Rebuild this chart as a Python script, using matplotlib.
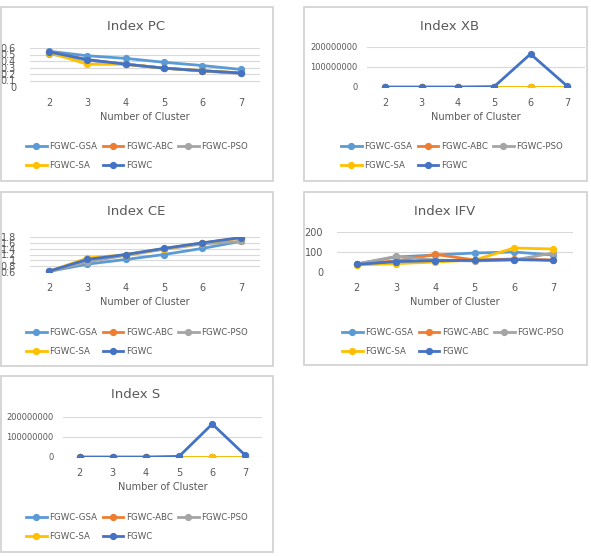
import matplotlib
matplotlib.use("Agg")
import matplotlib.pyplot as plt
from matplotlib.patches import Rectangle
from matplotlib.ticker import FuncFormatter

# ---- dados ----
clusters = [2, 3, 4, 5, 6, 7]
series_names = ["FGWC-GSA", "FGWC-ABC", "FGWC-PSO", "FGWC-SA", "FGWC"]

pc_gsa = [0.55, 0.48, 0.44, 0.38, 0.33, 0.27]
pc_abc = [0.54, 0.42, 0.35, 0.29, 0.25, 0.215]
pc_pso = [0.51, 0.41, 0.35, 0.29, 0.245, 0.21]
pc_sa = [0.53, 0.35, 0.35, 0.29, 0.25, 0.215]
pc_fgwc = [0.54, 0.42, 0.35, 0.29, 0.25, 0.215]

xb_gsa = [1.5, 1.2, 1.1, 1.0, 1.0, 1.0]
xb_abc = [1.5, 1.2, 1.1, 1.0, 1.0, 1.0]
xb_pso = [1.5, 1.2, 1.1, 1.0, 1.0, 1.0]
xb_sa = [1.5, 1.2, 1.1, 1.0, 1.0, 1.0]
xb_fgwc = [0, 0, 0, 2000000, 165000000, 6000000]

ce_gsa = [0.62, 0.87, 1.03, 1.20, 1.41, 1.65]
ce_abc = [0.62, 1.00, 1.19, 1.40, 1.59, 1.77]
ce_pso = [0.62, 0.95, 1.17, 1.38, 1.56, 1.65]
ce_sa = [0.62, 1.08, 1.19, 1.40, 1.59, 1.77]
ce_fgwc = [0.63, 1.03, 1.20, 1.41, 1.60, 1.78]

ifv_gsa = [40, 75, 85, 95, 100, 85]
ifv_abc = [40, 55, 88, 60, 65, 60]
ifv_pso = [40, 78, 60, 55, 60, 95]
ifv_sa = [35, 42, 50, 60, 120, 115]
ifv_fgwc = [38, 52, 57, 58, 62, 58]

s_gsa = [1.5, 1.2, 1.1, 1.0, 1.0, 1.0]
s_abc = [1.5, 1.2, 1.1, 1.0, 1.0, 1.0]
s_pso = [1.5, 1.2, 1.1, 1.0, 1.0, 1.0]
s_sa = [1.5, 1.2, 1.1, 1.0, 1.0, 1.0]
s_fgwc = [0, 0, 0, 3000000, 165000000, 8000000]

cores = ["#5B9BD5", "#ED7D31", "#A5A5A5", "#FFC000", "#4472C4"]
cinza_texto = "#595959"
cinza_grade = "#D9D9D9"

W, H = 591, 556
fig = plt.figure(figsize=(W / 100, H / 100), dpi=100)
fig.patch.set_facecolor("white")


def fx(px):
    return px / W


def fy(py):
    return 1 - py / H


def painel(caixa, eixo, titulo, titulo_x, titulo_y, xlabel_y, leg_x, leg_y,
           dados, ylim, yticks, fmt, ysize=7, ypad=8):
    # borda do painel
    x0, y0, x1, y1 = caixa
    fig.patches.append(Rectangle((fx(x0), fy(y1)), fx(x1 - x0), (y1 - y0) / H,
                                 transform=fig.transFigure, fill=False,
                                 edgecolor="#D0D0D0", linewidth=1.2))
    l, t, r, b = eixo
    ax = fig.add_axes([fx(l), fy(b), fx(r - l), (b - t) / H])
    linhas = []
    for vals, cor, nome in zip(dados, cores, series_names):
        ln, = ax.plot(clusters, vals, color=cor, lw=2.0, marker="o",
                      markersize=4.2, label=nome)
        linhas.append(ln)
    ax.set_xlim(1.5, 7.5)
    ax.set_ylim(*ylim)
    ax.set_xticks(clusters)
    ax.set_yticks(yticks)
    ax.yaxis.set_major_formatter(FuncFormatter(fmt))
    ax.grid(axis="y", color=cinza_grade, lw=0.8)
    ax.set_axisbelow(True)
    for s in ax.spines.values():
        s.set_visible(False)
    ax.tick_params(axis="x", length=0, labelsize=7, colors=cinza_texto, pad=8)
    ax.tick_params(axis="y", length=0, labelsize=ysize, colors=cinza_texto, pad=ypad)
    fig.text(fx(titulo_x), fy(titulo_y), titulo, ha="center", va="center",
             fontsize=9.5, color=cinza_texto)
    fig.text(fx((l + r) / 2), fy(xlabel_y), "Number of Cluster", ha="center",
             va="center", fontsize=7, color=cinza_texto)
    ordem = [0, 3, 1, 4, 2]
    ax.legend([linhas[i] for i in ordem], [series_names[i] for i in ordem],
              ncol=3, loc="center", bbox_to_anchor=(fx(leg_x), fy(leg_y)),
              bbox_transform=fig.transFigure, frameon=False, fontsize=6.2,
              labelcolor=cinza_texto, handlelength=2.4, columnspacing=0.6,
              handletextpad=0.3, labelspacing=1.05, markerscale=1.0)
    return ax


def fmt_dec(v, pos):
    return f"{v:g}"


def fmt_int(v, pos):
    return f"{int(round(v))}"


painel((1, 7, 273, 181), (30, 48, 260, 87), "Index PC", 136, 26, 117, 137, 156,
       [pc_gsa, pc_abc, pc_pso, pc_sa, pc_fgwc], (0, 0.6),
       [0, 0.1, 0.2, 0.3, 0.4, 0.5, 0.6], fmt_dec, ysize=7, ypad=10)

painel((304, 7, 587, 181), (367, 47, 585, 87), "Index XB", 450, 26, 117, 452, 156,
       [xb_gsa, xb_abc, xb_pso, xb_sa, xb_fgwc], (0, 200000000),
       [0, 100000000, 200000000], fmt_int, ysize=6, ypad=7)

painel((1, 192, 273, 366), (30, 237, 260, 272), "Index CE", 136, 211, 302, 137, 342,
       [ce_gsa, ce_abc, ce_pso, ce_sa, ce_fgwc], (0.6, 1.8),
       [0.6, 0.8, 1.0, 1.2, 1.4, 1.6, 1.8], fmt_dec, ysize=7, ypad=10)

painel((304, 192, 587, 365), (337, 232, 573, 272), "Index IFV", 445, 211, 302, 453, 342,
       [ifv_gsa, ifv_abc, ifv_pso, ifv_sa, ifv_fgwc], (0, 200),
       [0, 100, 200], fmt_int, ysize=7, ypad=10)

painel((1, 376, 273, 552), (63, 417, 262, 457), "Index S", 136, 395, 487, 137, 527,
       [s_gsa, s_abc, s_pso, s_sa, s_fgwc], (0, 200000000),
       [0, 100000000, 200000000], fmt_int, ysize=6, ypad=7)

fig.savefig("out.png", dpi=100, facecolor="white")
